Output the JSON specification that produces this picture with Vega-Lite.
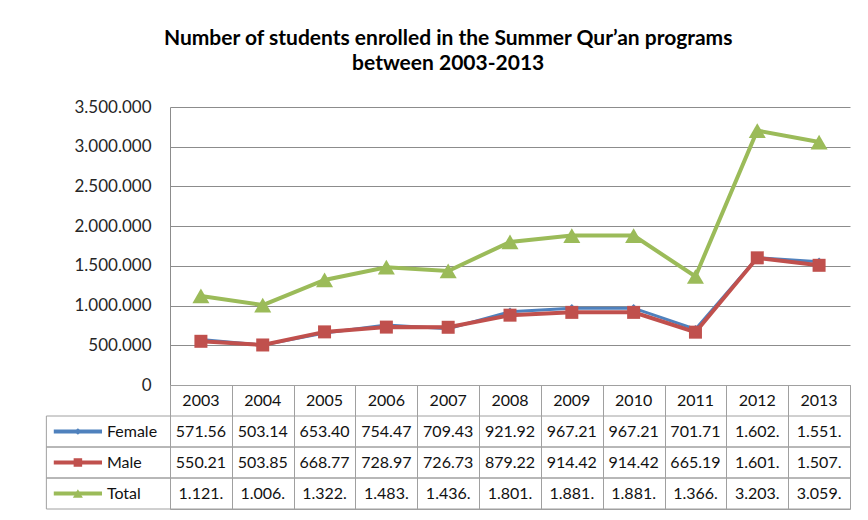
{
  "$schema": "https://vega.github.io/schema/vega-lite/v6.json",
  "padding": {"left": 45, "top": 28, "right": 20, "bottom": 8},
  "background": "white",
  "title": {
    "text": ["Number of students enrolled in the Summer Qur’an programs", "between 2003-2013"],
    "font": "Lato", "fontSize": 21, "fontWeight": "bold", "color": "#000000",
    "lineHeight": 25, "offset": 24, "anchor": "middle"
  },
  "data": {
    "values": [
      {"year": 2003, "series": "Female", "value": 571560},
      {"year": 2004, "series": "Female", "value": 503140},
      {"year": 2005, "series": "Female", "value": 653400},
      {"year": 2006, "series": "Female", "value": 754470},
      {"year": 2007, "series": "Female", "value": 709430},
      {"year": 2008, "series": "Female", "value": 921920},
      {"year": 2009, "series": "Female", "value": 967210},
      {"year": 2010, "series": "Female", "value": 967210},
      {"year": 2011, "series": "Female", "value": 701710},
      {"year": 2012, "series": "Female", "value": 1602000},
      {"year": 2013, "series": "Female", "value": 1551000},
      {"year": 2003, "series": "Male", "value": 550210},
      {"year": 2004, "series": "Male", "value": 503850},
      {"year": 2005, "series": "Male", "value": 668770},
      {"year": 2006, "series": "Male", "value": 728970},
      {"year": 2007, "series": "Male", "value": 726730},
      {"year": 2008, "series": "Male", "value": 879220},
      {"year": 2009, "series": "Male", "value": 914420},
      {"year": 2010, "series": "Male", "value": 914420},
      {"year": 2011, "series": "Male", "value": 665190},
      {"year": 2012, "series": "Male", "value": 1601000},
      {"year": 2013, "series": "Male", "value": 1507000},
      {"year": 2003, "series": "Total", "value": 1121000},
      {"year": 2004, "series": "Total", "value": 1006000},
      {"year": 2005, "series": "Total", "value": 1322000},
      {"year": 2006, "series": "Total", "value": 1483000},
      {"year": 2007, "series": "Total", "value": 1436000},
      {"year": 2008, "series": "Total", "value": 1801000},
      {"year": 2009, "series": "Total", "value": 1881000},
      {"year": 2010, "series": "Total", "value": 1881000},
      {"year": 2011, "series": "Total", "value": 1366000},
      {"year": 2012, "series": "Total", "value": 3203000},
      {"year": 2013, "series": "Total", "value": 3059000}
    ]
  },
  "spacing": 0,
  "bounds": "flush",
  "resolve": {"scale": {"x": "independent", "y": "independent", "color": "independent", "shape": "independent", "size": "independent"}},
  "vconcat": [
    {
      "width": 680,
      "height": 278,
      "encoding": {
        "x": {"field": "year", "type": "quantitative",
          "scale": {"domain": [2002.5, 2013.5], "nice": false, "zero": false},
          "axis": {"title": null, "labels": false, "ticks": false, "grid": false, "domainColor": "#8c8c8c"}},
        "y": {"field": "value", "type": "quantitative",
          "scale": {"domain": [0, 3500000], "nice": false},
          "axis": {"title": null, "values": [0, 500000, 1000000, 1500000, 2000000, 2500000, 3000000, 3500000],
            "format": ",d", "grid": true, "gridColor": "#8c8c8c", "ticks": false, "labelPadding": 19,
            "labelFont": "Lato", "labelFontSize": 17, "labelColor": "#262626", "domainColor": "#8c8c8c"}}
      },
      "layer": [
        {"transform": [{"filter": "datum.series === 'Female'"}],
         "mark": {"type": "line", "color": "#4F81BD", "strokeWidth": 3}},
        {"transform": [{"filter": "datum.series === 'Female'"}],
         "mark": {"type": "point", "shape": "diamond", "filled": true, "size": 70, "color": "#4F81BD", "opacity": 1}},
        {"transform": [{"filter": "datum.series === 'Male'"}],
         "mark": {"type": "line", "color": "#C0504D", "strokeWidth": 4}},
        {"transform": [{"filter": "datum.series === 'Male'"}],
         "mark": {"type": "point", "shape": "square", "filled": true, "size": 169, "color": "#C0504D", "opacity": 1}},
        {"transform": [{"filter": "datum.series === 'Total'"}],
         "mark": {"type": "line", "color": "#9BBB59", "strokeWidth": 4}},
        {"transform": [{"filter": "datum.series === 'Total'"}],
         "mark": {"type": "point", "shape": "triangle-up", "filled": true, "size": 290, "color": "#9BBB59", "opacity": 1}}
      ]
    },
    {
      "width": 680,
      "height": 124,
      "view": {"stroke": "#a0a0a0"},
      "transform": [
        {"calculate": "substring(replace(format(datum.value, ','), regexp(',', 'g'), '.'), 0, 6)", "as": "label"}
      ],
      "layer": [
        {
          "mark": {"type": "text", "font": "Lato", "fontSize": 16, "color": "#111111", "baseline": "middle"},
          "encoding": {
            "x": {"field": "year", "type": "quantitative",
              "scale": {"domain": [2002.5, 2013.5], "nice": false, "zero": false},
              "axis": {"title": null, "values": [2003.5, 2004.5, 2005.5, 2006.5, 2007.5, 2008.5, 2009.5, 2010.5, 2011.5, 2012.5],
                "grid": true, "gridColor": "#a0a0a0", "gridOpacity": 1, "labels": false, "ticks": false, "domain": false}},
            "y": {"field": "series", "type": "nominal",
              "scale": {"domain": ["Year", "Female", "Male", "Total"], "paddingInner": 0, "paddingOuter": 0},
              "axis": null},
            "text": {"field": "label", "type": "nominal"}
          }
        },
        {
          "transform": [{"filter": "datum.series === 'Female'"}],
          "mark": {"type": "text", "font": "Lato", "fontSize": 16, "color": "#111111", "baseline": "middle"},
          "encoding": {
            "x": {"field": "year", "type": "quantitative"},
            "y": {"datum": "Year", "type": "nominal"},
            "text": {"field": "year", "type": "nominal"}
          }
        },
        {
          "transform": [{"filter": "datum.year === 2003"}],
          "mark": {"type": "rule", "color": "#a0a0a0", "strokeWidth": 1},
          "encoding": {
            "x": {"datum": 2000.5},
            "x2": {"datum": 2013.5},
            "y": {"field": "series", "type": "nominal", "bandPosition": 0}
          }
        },
        {
          "transform": [{"filter": "datum.year === 2003"}],
          "mark": {"type": "rule", "color": "#a0a0a0", "strokeWidth": 1},
          "encoding": {
            "x": {"datum": 2000.5},
            "x2": {"datum": 2013.5},
            "y": {"field": "series", "type": "nominal", "bandPosition": 1}
          }
        },
        {
          "transform": [{"filter": "datum.year === 2003"}],
          "mark": {"type": "tick", "orient": "vertical", "size": 31, "thickness": 1, "color": "#a0a0a0", "opacity": 1},
          "encoding": {
            "x": {"datum": 2000.5},
            "y": {"field": "series", "type": "nominal"}
          }
        },
        {
          "transform": [{"filter": "datum.year === 2003"}],
          "mark": {"type": "rule", "strokeWidth": 4},
          "encoding": {
            "x": {"datum": 2000.62},
            "x2": {"datum": 2001.4},
            "y": {"field": "series", "type": "nominal"},
            "color": {"field": "series", "type": "nominal",
              "scale": {"domain": ["Female", "Male", "Total"], "range": ["#4F81BD", "#C0504D", "#9BBB59"]}, "legend": null}
          }
        },
        {
          "transform": [{"filter": "datum.year === 2003"}],
          "mark": {"type": "point", "filled": true, "opacity": 1},
          "encoding": {
            "x": {"datum": 2001.01},
            "y": {"field": "series", "type": "nominal"},
            "color": {"field": "series", "type": "nominal", "legend": null},
            "shape": {"field": "series", "type": "nominal",
              "scale": {"domain": ["Female", "Male", "Total"], "range": ["diamond", "square", "triangle-up"]}, "legend": null},
            "size": {"field": "series", "type": "nominal",
              "scale": {"domain": ["Female", "Male", "Total"], "range": [45, 100, 70]}, "legend": null}
          }
        },
        {
          "transform": [{"filter": "datum.year === 2003"}],
          "mark": {"type": "text", "font": "Lato", "fontSize": 16, "color": "#111111", "align": "left", "baseline": "middle"},
          "encoding": {
            "x": {"datum": 2001.48},
            "y": {"field": "series", "type": "nominal"},
            "text": {"field": "series", "type": "nominal"}
          }
        }
      ]
    }
  ],
  "config": {
    "locale": {"number": {"decimal": ",", "thousands": ".", "grouping": [3], "currency": ["", ""]}},
    "view": {"stroke": null},
    "font": "Lato"
  }
}
